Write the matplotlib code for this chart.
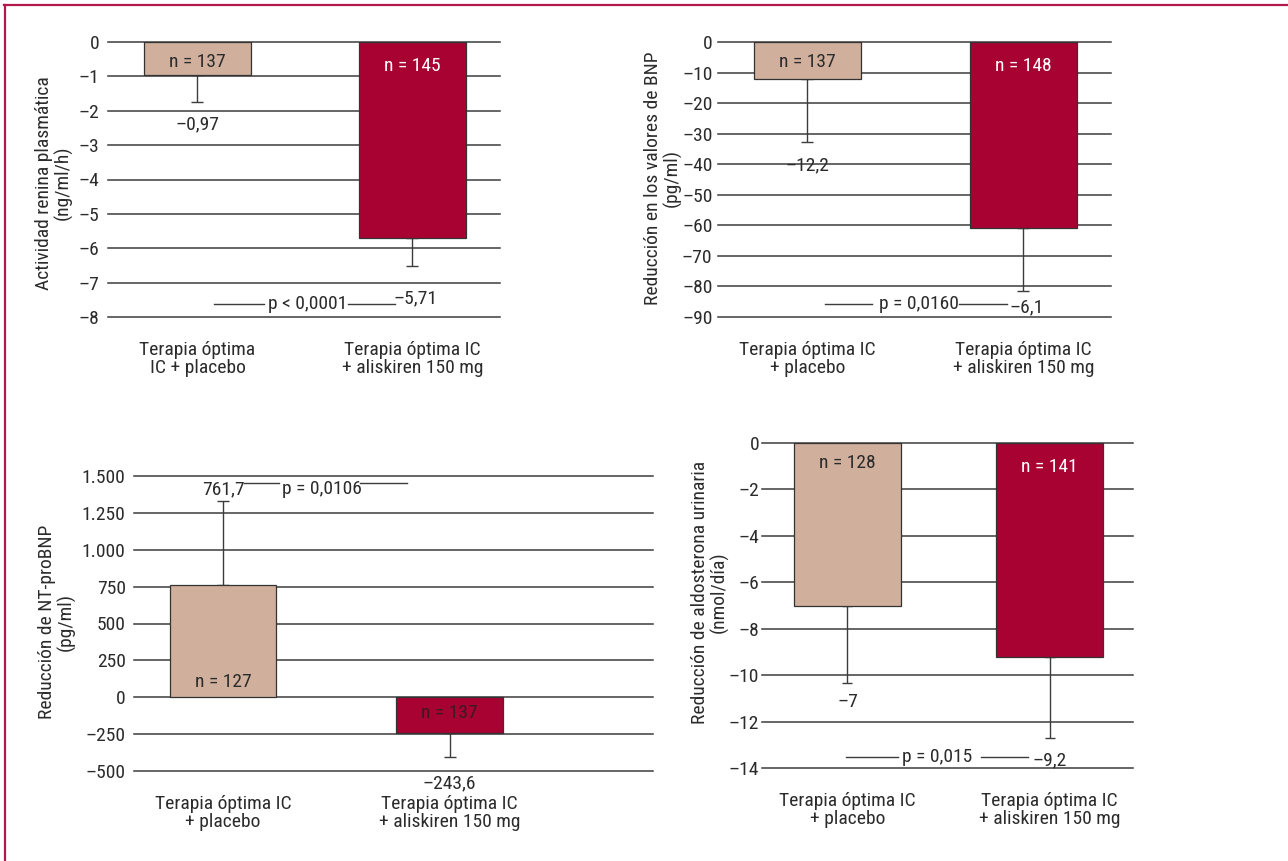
import matplotlib
matplotlib.use("Agg")
import matplotlib.pyplot as plt
from matplotlib.lines import Line2D

plt.rcParams["font.family"] = ["Roboto Condensed", "Liberation Sans Narrow", "Roboto", "DejaVu Sans"]
plt.rcParams["font.size"] = 14

# Groups shown under each panel
groups_renin = ["Terapia óptima\nIC + placebo", "Terapia óptima IC\n+ aliskiren 150 mg"]
groups_other = ["Terapia óptima IC\n+ placebo", "Terapia óptima IC\n+ aliskiren 150 mg"]

# Actividad renina plasmática (ng/ml/h)
renin_values = [-0.97, -5.71]
renin_err = [0.78, 0.81]
renin_n = [137, 145]
renin_labels = ["–0,97", "–5,71"]
renin_ticks = [0, -1, -2, -3, -4, -5, -6, -7, -8]
renin_ticklabels = ["0", "–1", "–2", "–3", "–4", "–5", "–6", "–7", "–8"]

# Reducción en los valores de BNP (pg/ml)
bnp_values = [-12.2, -61.0]
bnp_err = [20.5, 20.5]
bnp_n = [137, 148]
bnp_labels = ["–12,2", "–6,1"]
bnp_ticks = [0, -10, -20, -30, -40, -50, -60, -70, -80, -90]
bnp_ticklabels = ["0", "–10", "–20", "–30", "–40", "–50", "–60", "–70", "–80", "–90"]

# Reducción de NT-proBNP (pg/ml)
nt_values = [761.7, -243.6]
nt_err = [569, 162]
nt_n = [127, 137]
nt_labels = ["761,7", "–243,6"]
nt_ticks = [1500, 1250, 1000, 750, 500, 250, 0, -250, -500]
nt_ticklabels = ["1.500", "1.250", "1.000", "750", "500", "250", "0", "–250", "–500"]

# Reducción de aldosterona urinaria (nmol/día)
aldo_values = [-7.0, -9.2]
aldo_err = [3.34, 3.5]
aldo_n = [128, 141]
aldo_labels = ["–7", "–9,2"]
aldo_ticks = [0, -2, -4, -6, -8, -10, -12, -14]
aldo_ticklabels = ["0", "–2", "–4", "–6", "–8", "–10", "–12", "–14"]

TAN = "#d0b09d"
CRIMSON = "#a80232"
INK = "#2b2b2b"
GRID = "#3c3c3c"

W, H = 1288, 861
fig = plt.figure(figsize=(W / 100, H / 100), dpi=100)


def box(left, top, right, bottom):
    return [left / W, 1 - bottom / H, (right - left) / W, (bottom - top) / H]


def panel(rect, values, errs, groups, ticks, ticklabels, xlim, width, ypad, capsize):
    ax = fig.add_axes(rect)
    x = [0, 1]
    for t in ticks:
        ax.axhline(t, color=GRID, lw=1.1, zorder=0.5, clip_on=False)
    lower = [e if v < 0 else 0 for v, e in zip(values, errs)]
    upper = [e if v > 0 else 0 for v, e in zip(values, errs)]
    ax.errorbar(x, values, yerr=[lower, upper], fmt="none", ecolor=GRID,
                elinewidth=1.0, capsize=capsize, capthick=1.0, zorder=1.5)
    ax.bar(x, values, width, color=[TAN, CRIMSON], edgecolor="#333333",
           linewidth=0.9, zorder=2)
    ax.set_xlim(*xlim)
    ax.set_ylim(min(ticks), max(ticks))
    ax.set_yticks(ticks, ticklabels)
    ax.set_xticks(x, groups)
    for lbl in ax.get_xticklabels():
        lbl.set_linespacing(1.0)
    ax.tick_params(axis="y", length=0, pad=ypad, colors=INK)
    ax.tick_params(axis="x", length=0, pad=17, colors=INK)
    for s in ax.spines.values():
        s.set_visible(False)
    ax.patch.set_visible(False)
    return ax


def p_value(ax, y, x1, x2, xt, x3, x4, text, ty=None):
    ax.plot([x1, x2], [y, y], color=GRID, lw=1.0, zorder=3)
    ax.plot([x3, x4], [y, y], color=GRID, lw=1.0, zorder=3)
    ax.text(xt, y if ty is None else ty, text, ha="center", va="center", color=INK, zorder=4)


def ylabel(x, y, text):
    fig.text(x / W, 1 - y / H, text, rotation=90, ha="center", va="center",
             color=INK, linespacing=1.05, multialignment="center")


# Panel 1: renina
ax1 = panel(box(108, 42, 500, 317), renin_values, renin_err, groups_renin,
            renin_ticks, renin_ticklabels, (-0.416, 1.407), 0.498, 6, 4.5)
ax1.text(0, -0.58, f"n = {renin_n[0]}", ha="center", va="center", color=INK, zorder=4)
ax1.text(1, -0.70, f"n = {renin_n[1]}", ha="center", va="center", color="white", zorder=4)
ax1.text(0, -2.41, renin_labels[0], ha="center", va="center", color=INK)
ax1.text(1.012, -7.45, renin_labels[1], ha="center", va="center", color=INK, zorder=4)
p_value(ax1, -7.62, 0.077, 0.309, 0.514, 0.70, 0.919, "p < 0,0001")
ylabel(54, 183, "Actividad renina plasmática\n(ng/ml/h)")

# Panel 2: BNP
ax2 = panel(box(718, 42, 1111, 317), bnp_values, bnp_err, groups_other,
            bnp_ticks, bnp_ticklabels, (-0.414, 1.405), 0.498, 4, 4.5)
ax2.text(0, -6.5, f"n = {bnp_n[0]}", ha="center", va="center", color=INK, zorder=4)
ax2.text(1, -7.9, f"n = {bnp_n[1]}", ha="center", va="center", color="white", zorder=4)
ax2.text(0.002, -40.3, bnp_labels[0], ha="center", va="center", color=INK, zorder=4)
ax2.text(1.016, -86.7, bnp_labels[1], ha="center", va="center", color=INK, zorder=4)
p_value(ax2, -85.7, 0.081, 0.299, 0.516, 0.701, 0.923, "p = 0,0160")
ylabel(663, 178, "Reducción en los valores de BNP\n(pg/ml)")

# Panel 3: NT-proBNP
ax3 = panel(box(134, 476, 653, 771), nt_values, nt_err, groups_other,
            nt_ticks, nt_ticklabels, (-0.393, 1.898), 0.47, 6, 4.5)
ax3.text(0, 103, f"n = {nt_n[0]}", ha="center", va="center", color=INK, zorder=4)
ax3.text(1, -107, f"n = {nt_n[1]}", ha="center", va="center", color="#3a1a22", zorder=4)
ax3.text(0.004, 1412, nt_labels[0], ha="center", va="center", color=INK, zorder=4)
ax3.text(1, -581, nt_labels[1], ha="center", va="center", color=INK, zorder=4)
p_value(ax3, 1452, 0.093, 0.247, 0.437, 0.605, 0.812, "p = 0,0106", ty=1412)
ylabel(57, 622, "Reducción de NT-proBNP\n(pg/ml)")

# Panel 4: aldosterona
ax4 = panel(box(762, 443, 1133, 768), aldo_values, aldo_err, groups_other,
            aldo_ticks, aldo_ticklabels, (-0.423, 1.413), 0.53, 2, 3.6)
ax4.text(0, -0.86, f"n = {aldo_n[0]}", ha="center", va="center", color=INK, zorder=4)
ax4.text(1, -1.03, f"n = {aldo_n[1]}", ha="center", va="center", color="white", zorder=4)
ax4.text(0, -11.16, aldo_labels[0], ha="center", va="center", color=INK, zorder=4)
ax4.text(1.0, -13.66, aldo_labels[1], ha="center", va="center", color=INK, zorder=4)
p_value(ax4, -13.53, -0.007, 0.25, 0.443, 0.661, 0.894, "p = 0,015")
ylabel(710, 592, "Reducción de aldosterona urinaria\n(nmol/día)")

# Frame along the top and left edges
fig.add_artist(Line2D([4 / W, 1], [1 - 5 / H, 1 - 5 / H], color="#b3184a", lw=1.6))
fig.add_artist(Line2D([5 / W, 5 / W], [1 - 5 / H, 0], color="#b3184a", lw=1.6))

fig.savefig("out.png", dpi=100)
